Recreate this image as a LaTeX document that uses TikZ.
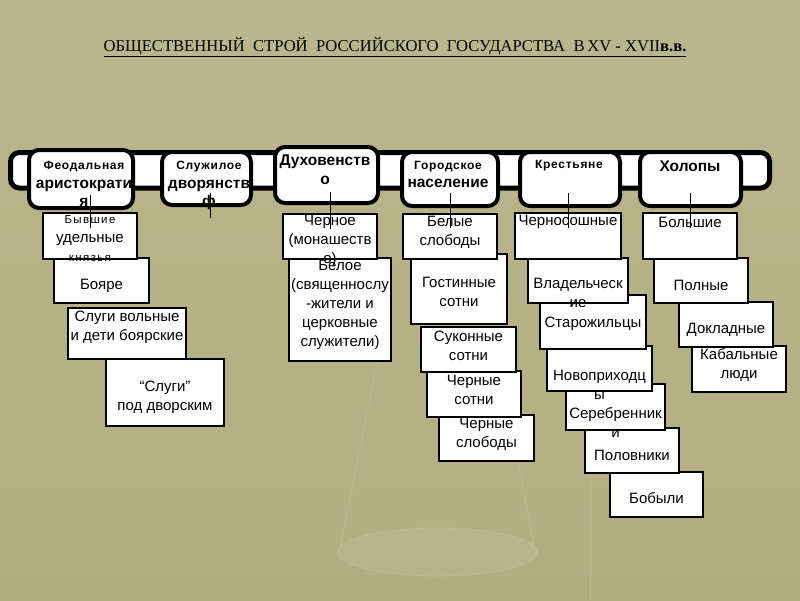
\documentclass[tikz,border=0pt]{standalone}
\usepackage{fontspec}
\setmainfont{Liberation Sans}
\newfontfamily\serifttl{Liberation Serif}
\newfontfamily\spaced[LetterSpace=6]{Liberation Sans}
\newfontfamily\spacedx[LetterSpace=12]{Liberation Sans}
\usetikzlibrary{calc}
\definecolor{bgtop}{HTML}{BAB68E}
\definecolor{bgbot}{HTML}{B2AD81}
\definecolor{ghost}{HTML}{C3BF9E}
\tikzset{
  bar/.style={draw=black, line width=5pt, fill=white, rounded corners=9pt},
  catbox/.style={draw=black, line width=4pt, fill=white, rounded corners=10pt, inner sep=0pt},
  cattext/.style={anchor=north, align=center, inner sep=0pt, font=\fontsize{15.5}{18.5}\selectfont\bfseries},
  kbox/.style={draw=black, line width=1.8pt, fill=white, inner sep=0pt},
  ktext/.style={align=center, inner sep=0pt, font=\fontsize{15}{19}\selectfont},
  link/.style={draw=black, line width=0.9pt},
  ghostline/.style={draw=ghost, line width=1pt, opacity=0.5},
}
\newcommand\kb[7]{%
  \node[kbox, minimum width={#4-#2-1.8}, minimum height={#5-#3-1.8}] (#1) at ({(#2+#4)/2},{(#3+#5)/2}) {};
  \node[ktext] (#1t) at ($(#1.center)+(0,#6)$) {#7};}
\newcommand\cb[5]{%
  \node[catbox, minimum width={#4-#2-4}, minimum height={#5-#3-4}] (#1) at ({(#2+#4)/2},{(#3+#5)/2}) {};}
\begin{document}
\begin{tikzpicture}[x=1pt, y=-1pt]
\useasboundingbox (0,0) rectangle (800,600);
\shade[top color=bgtop, bottom color=bgbot] (0,0) rectangle (800,600);
% faint background scale
\fill[ghost, opacity=0.3] (437,552) ellipse (100 and 24);
\draw[ghostline] (437,552) ellipse (100 and 24);
\draw[ghostline] (340,548) -- (390,300);
\draw[ghostline] (534,548) -- (490,300);
\draw[ghostline] (590,450) -- (590,600);
% title
\node[font=\serifttl\fontsize{16.6}{18}\selectfont, anchor=base, inner sep=0pt] (title) at (395,51)
  {\underline{ОБЩЕСТВЕННЫЙ\ \ СТРОЙ\ \ РОССИЙСКОГО\ \ ГОСУДАРСТВА\ \ В\,XV - XVII\textbf{в.в.}}};
% bar
\draw[bar] (10.5,152.5) rectangle (769.5,188);
% categories
\cb{c1}{27}{148}{135}{210}
\cb{c2}{160}{150}{253}{207}
\cb{c3}{273}{145}{380}{205}
\cb{c4}{400}{150}{500}{208}
\cb{c5}{518}{150}{622}{208}
\cb{c6}{638}{150}{743}{208}
\node[cattext] (c1t) at (84,161) {{\spaced\fontsize{12}{13}\selectfont Феодальная}\\аристократи\\я};
\node[cattext] (c2t) at (209,161) {{\spaced\fontsize{12}{13}\selectfont Служилое}\\дворянств\\ф};
\node[cattext] (c3t) at (325,155) {Духовенств\\о};
\node[cattext] (c4t) at (448,161) {{\spaced\fontsize{12}{13}\selectfont Городское}\\население};
\node[cattext] (c5t) at (569,160) {{\spaced\fontsize{12}{13}\selectfont Крестьяне}};
\node[cattext] (c6t) at (690,161) {Холопы};
% column 1
\kb{k14}{105}{358}{225}{427}{5}{“Слуги”\\под дворским}
\kb{k13}{67}{307}{187}{360}{-6}{Слуги вольные\\и дети боярские}
\kb{k12}{53}{257}{150}{304}{5}{Бояре}
\kb{k11}{42}{212}{138}{260}{3}{{\spacedx\fontsize{11.5}{12}\selectfont Бывшие}\\удельные\\{\spacedx\fontsize{11.5}{12}\selectfont князья}}
% column 3
\kb{k32}{288}{257}{392}{362}{-5}{Белое\\(священнослу\\-жители и\\церковные\\служители)}
\kb{k31}{282}{213}{378}{260}{4}{Черное\\(монашеств\\о)}
% column 4
\kb{k45}{438}{414}{535}{462}{-4}{Черные\\слободы}
\kb{k44}{426}{370}{522}{418}{-4}{Черные\\сотни}
\kb{k43}{420}{326}{517}{373}{-3.5}{Суконные\\сотни}
\kb{k42}{410}{253}{508}{325}{3}{Гостинные\\сотни}
\kb{k41}{402}{213}{498}{260}{-4}{Белые\\слободы}
% column 5
\kb{k57}{609}{471}{704}{518}{4}{Бобыли}
\kb{k56}{584}{427}{680}{474}{5}{Половники}
\kb{k55}{565}{383}{666}{431}{15}{Серебренник\\и}
\kb{k54}{546}{345}{653}{392}{16}{Новоприходц\\ы}
\kb{k53}{539}{294}{647}{350}{2}{Старожильцы}
\kb{k52}{527}{257}{629}{304}{12}{Владельческ\\ие}
\kb{k51}{514}{212}{622}{260}{-14}{Черносошные}
% column 6
\kb{k64}{691}{345}{787}{393}{-4}{Кабальные\\люди}
\kb{k63}{678}{301}{774}{348}{5}{Докладные}
\kb{k62}{653}{257}{749}{304}{5}{Полные}
\kb{k61}{642}{212}{738}{260}{-14}{Большие}
% links
\draw[link] ($(k11.north |- c1.south)+(0,-15)$) -- ($(k11.north)+(0,16)$);
\coordinate (e2) at (210,218);
\draw[link] ($(e2 |- c2.south)+(0,-14)$) -- (e2);
\draw[link] ($(k31.north |- c3.south)+(0,-13)$) -- ($(k31.north)+(0,16)$);
\draw[link] ($(k41.north |- c4.south)+(0,-15)$) -- ($(k41.north)+(0,15)$);
\draw[link] ($(k51.north |- c5.south)+(0,-15)$) -- ($(k51.north)+(0,16)$);
\draw[link] ($(k61.north |- c6.south)+(0,-15)$) -- ($(k61.north)+(0,16)$);
\end{tikzpicture}
\end{document}
